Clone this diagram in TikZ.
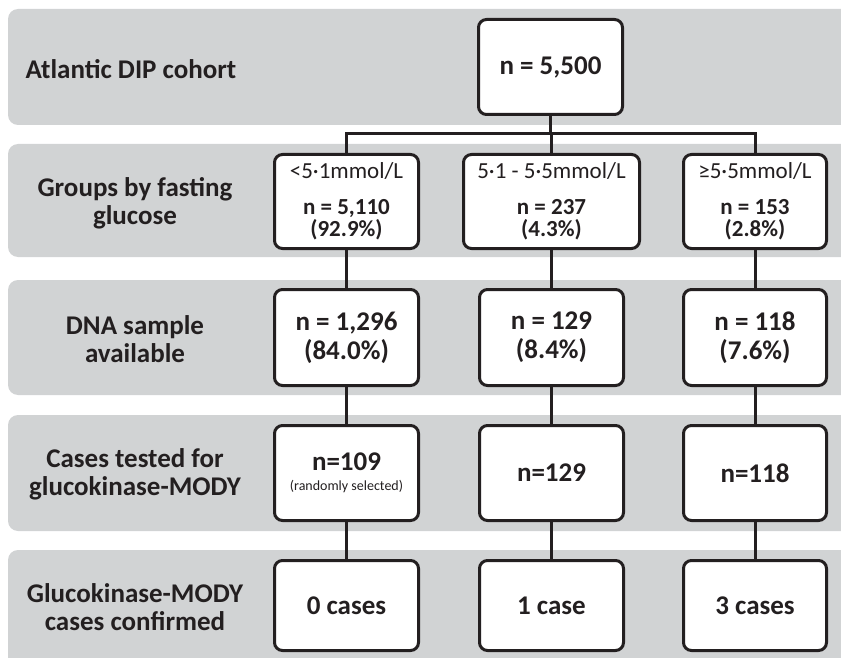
\documentclass[tikz,border=0pt]{standalone}
\usepackage{fontspec}
\setmainfont{Carlito}
\definecolor{bandgray}{HTML}{D1D3D4}
\definecolor{ink}{HTML}{231F20}
\begin{document}
\begin{tikzpicture}[x=1pt,y=-1pt,
  bandbox/.style={fill=bandgray, rounded corners=10pt},
  stage/.style={font=\fontsize{27}{28}\selectfont\bfseries, text=ink, align=center},
  numbox/.style={draw=ink, line width=3pt, fill=white, rounded corners=8pt, align=center,
    text=ink, inner sep=0pt, font=\fontsize{27}{29}\selectfont\bfseries},
  smallbox/.style={numbox, font=\fontsize{23}{22}\selectfont\bfseries},
  link/.style={draw=ink, line width=3pt, line join=miter}]
\useasboundingbox (0,0) rectangle (841,658);
% bands
\fill[bandbox] (8,9) rectangle (880,125);
\fill[bandbox] (8,144) rectangle (880,257);
\fill[bandbox] (8,280) rectangle (880,395);
\fill[bandbox] (8,415) rectangle (880,531);
\fill[bandbox] (8,550) rectangle (880,690);
% stage labels
\node[stage] (l1) at (131,69) {Atlantic DIP cohort};
\node[stage] (l2) at (135,203) {Groups by fasting\\glucose};
\node[stage] (l3) at (135,339) {DNA sample\\available};
\node[stage] (l4) at (135,474) {Cases tested for\\glucokinase-MODY};
\node[stage] (l5) at (135,607) {Glucokinase-MODY\\cases confirmed};
% boxes
\node[numbox, minimum width=144pt, minimum height=95pt] (t) at (550.5,67) {n = 5,500};
\node[smallbox, minimum width=144pt, minimum height=94pt] (a1) at (346.5,201.5)
  {{\mdseries <5·1mmol/L}\\[14pt]n = 5,110\\(92.9\%)};
\node[smallbox, minimum width=176pt, minimum height=94pt] (a2) at (551.5,201.5)
  {{\mdseries 5·1 - 5·5mmol/L}\\[14pt]n = 237\\(4.3\%)};
\node[smallbox, minimum width=143pt, minimum height=94pt] (a3) at (755,201.5)
  {{\mdseries ≥5·5mmol/L}\\[14pt]n = 153\\(2.8\%)};
\node[numbox, minimum width=144pt, minimum height=96pt] (b1) at (346.5,337.5) {n = 1,296\\(84.0\%)};
\node[numbox, minimum width=144pt, minimum height=96pt] (b2) at (551.5,337.5) {n = 129\\(8.4\%)};
\node[numbox, minimum width=143pt, minimum height=96pt] (b3) at (755,337.5) {n = 118\\(7.6\%)};
\node[numbox, minimum width=144pt, minimum height=95pt] (c1) at (346.5,473)
  {n=109\\[-9pt]{\fontsize{14}{16}\selectfont\mdseries (randomly selected)}};
\node[numbox, minimum width=144pt, minimum height=95pt] (c2) at (551.5,473) {n=129};
\node[numbox, minimum width=143pt, minimum height=95pt] (c3) at (755,473) {n=118};
\node[numbox, minimum width=144pt, minimum height=90pt] (d1) at (346.5,605.5) {0 cases};
\node[numbox, minimum width=144pt, minimum height=90pt] (d2) at (551.5,605.5) {1 case};
\node[numbox, minimum width=143pt, minimum height=90pt] (d3) at (755,605.5) {3 cases};
% connectors
\coordinate (jM) at (551,134);
\draw[link] (t.south) -- (t.south |- jM);
\draw[link] (a1.north) -- (a1.north |- jM) -- (a3.north |- jM) -- (a3.north);
\draw[link] (a2.north) -- (a2.north |- jM);
\draw[link] (a1.south) -- (b1.north);
\draw[link] (a2.south) -- (b2.north);
\draw[link] (a3.south) -- (b3.north);
\draw[link] (b1.south) -- (c1.north);
\draw[link] (b2.south) -- (c2.north);
\draw[link] (b3.south) -- (c3.north);
\draw[link] (c1.south) -- (d1.north);
\draw[link] (c2.south) -- (d2.north);
\draw[link] (c3.south) -- (d3.north);
\end{tikzpicture}
\end{document}
